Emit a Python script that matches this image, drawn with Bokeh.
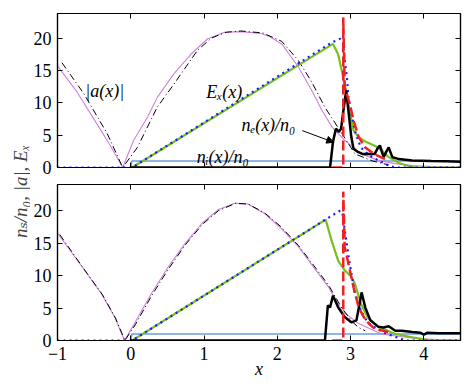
from math import pi
from bokeh.plotting import figure
from bokeh.models import Range1d, LinearAxis, Label, Arrow, NormalHead
from bokeh.layouts import row, column
from bokeh.embed import file_html
from bokeh.resources import INLINE

X_TICKS = [-1, 0, 1, 2, 3, 4]
Y_TICKS = [0, 5, 10, 15, 20]

# ---------------- top panel data ----------------
top_a_x = [-1, -0.73, -0.46, -0.28, -0.11, 0.04, 0.23, 0.36, 0.59, 0.82, 1.05, 1.28, 1.5, 1.78,
           1.9, 2.06, 2.29, 2.47, 2.61, 2.75, 2.92, 3.15, 3.38, 3.61, 3.84, 4.1, 4.5]
top_a_y = [15.7, 11.6, 6.7, 3.4, 0.0, 4.2, 7.8, 10.8, 14.5, 17.5, 19.9, 20.9, 21.0, 20.7,
           20.2, 19.1, 15.5, 11.9, 8.8, 6.2, 4.2, 2.1, 1.1, 0.6, 0.3, 0.15, 0.05]
top_th_x = [-0.94, -0.64, -0.32, -0.11, 0.09, 0.36, 0.59, 0.91, 1.1, 1.3, 1.5, 1.8, 2.06,
            2.29, 2.47, 2.65, 2.85, 3.06, 3.3, 3.52]
top_th_y = [16.2, 11.4, 5.2, 0.0, 3.1, 9.3, 12.9, 18.1, 20.0, 20.9, 21.1, 20.8, 19.5,
            16.5, 13.2, 9.3, 5.8, 2.1, 1.0, 0.4]
top_E_x = [0, 0.02, 2.76, 2.83, 2.9, 2.97, 3.04, 3.11, 3.2, 3.38, 3.52, 3.66, 3.8, 3.9, 4.5]
top_E_y = [0, 0, 19.1, 17.5, 13.9, 9.8, 5.7, 4.7, 4.0, 3.1, 1.6, 0.7, 0.2, 0, 0]
top_Eth_x = [-1, 0.02, 2.74, 2.86, 2.9, 2.92, 2.95, 2.97, 3.02, 3.07, 3.14, 3.25, 3.38, 3.52, 3.6, 4.5]
top_Eth_y = [0, 0, 19.3, 19.9, 19.2, 16.5, 13.9, 10.8, 7.8, 5.2, 3.1, 1.9, 1.1, 0.3, 0, 0]
top_ne_x = [0, 2.72, 2.76, 2.80, 2.84, 2.87, 2.91, 2.94, 2.97, 3.01, 3.04, 3.1, 3.16, 3.25,
            3.33, 3.37, 3.40, 3.45, 3.49, 3.52, 3.57, 3.66, 3.84, 4.1, 4.3, 4.5]
top_ne_y = [0, 0, 4.0, 6.0, 5.5, 6.0, 9.5, 11.9, 8.8, 4.7, 2.9, 2.4, 2.1, 2.1,
            2.1, 3.0, 3.4, 1.6, 2.5, 3.1, 1.6, 1.3, 1.1, 1.0, 0.95, 0.9]
top_neth_x = [2.75, 2.9, 2.9, 2.92, 2.99, 3.04, 3.11, 3.2, 3.32, 3.45, 3.52]
top_neth_y = [0, 0, 23.2, 12.4, 9.8, 7.3, 4.7, 3.1, 2.1, 1.4, 1.1]
ni_x = [0.0, 0.015, 4.5]
ni_y = [0.0, 1.0, 1.0]

# ---------------- bottom panel data ----------------
bot_a_x = [-1, -0.63, -0.4, -0.22, -0.085, 0.05, 0.28, 0.51, 0.74, 0.97, 1.19, 1.42, 1.6,
           1.83, 2.05, 2.29, 2.5, 2.70, 2.88, 3.11, 3.42, 3.88, 4.2, 4.5]
bot_a_y = [16.5, 10.8, 7.2, 3.6, 0.0, 2.6, 7.2, 11.3, 14.9, 18.0, 20.1, 21.1, 21.0,
           19.5, 17.3, 14.4, 11.2, 8.2, 4.6, 2.6, 1.0, 0.3, 0.15, 0.05]
bot_th_x = [-0.97, -0.62, -0.39, -0.21, -0.08, 0.06, 0.29, 0.52, 0.75, 0.98, 1.2, 1.43, 1.6,
            1.83, 2.05, 2.29, 2.5, 2.70, 2.88, 3.03, 3.11, 3.2]
bot_th_y = [16.3, 10.7, 7.1, 3.5, 0.0, 2.4, 7.0, 11.1, 14.8, 17.9, 20.0, 21.1, 21.0,
            19.6, 17.5, 14.6, 11.5, 8.5, 5.0, 2.8, 2.0, 1.5]
bot_E_x = [0, 0.02, 2.66, 2.74, 2.83, 2.92, 3.01, 3.06, 3.14, 3.23, 3.38, 3.61, 3.84, 4.1, 4.5]
bot_E_y = [0, 0, 18.6, 15.4, 12.3, 10.8, 9.8, 8.7, 5.7, 3.6, 2.1, 1.0, 0.5, 0, 0]
bot_Eth_x = [-1, 0.02, 2.70, 2.86, 2.89, 2.92, 2.96, 3.01, 3.06, 3.14, 3.23, 3.36, 3.5, 3.63, 3.75, 4.5]
bot_Eth_y = [0, 0, 18.9, 20.0, 19.5, 17.0, 13.9, 10.3, 7.2, 4.6, 2.8, 1.8, 1.0, 0.5, 0, 0]
bot_ne_x = [0, 2.65, 2.69, 2.72, 2.76, 2.83, 2.92, 3.01, 3.08, 3.12, 3.15, 3.2, 3.27, 3.38,
            3.45, 3.52, 3.61, 3.7, 3.84, 3.95, 4.0, 4.05, 4.2, 4.5]
bot_ne_y = [0, 0, 5.4, 5.1, 6.9, 5.1, 3.6, 2.8, 3.1, 5.5, 7.4, 5.1, 3.1, 2.1,
            2.0, 2.2, 1.5, 1.5, 1.3, 1.2, 0.9, 1.2, 1.1, 1.1]
bot_neth_x = [2.75, 2.9, 2.9, 2.92, 2.99, 3.04, 3.11, 3.18, 3.25, 3.33, 3.52]
bot_neth_y = [0, 0, 22.9, 14.4, 10.8, 8.2, 5.1, 3.6, 2.6, 1.8, 1.3]

VIOLET = "#cf7fe0"
GREEN = "#76c11b"
BLUE = "#1a1aff"
RED = "#ee2222"
LIGHTBLUE = "#6a9fe0"
SERIF = "Liberation Serif, DejaVu Serif, serif"


def style_axis(ax, ticks, labels=True):
    ax.ticker = ticks
    ax.major_tick_in = 5
    ax.major_tick_out = 0
    ax.minor_tick_in = 0
    ax.minor_tick_out = 0
    ax.axis_line_width = 1.2
    ax.major_tick_line_width = 1
    if labels:
        ax.major_label_text_font = SERIF
        ax.major_label_text_font_size = "18px"
        ax.major_label_text_color = "black"
        ax.major_label_standoff = 6
    else:
        ax.major_label_text_font_size = "0px"
        ax.major_label_text_color = None
        ax.major_label_standoff = 0


def make_fig(height, ymax, top, bottom, xlabels):
    p = figure(width=441, height=height, x_range=Range1d(-1, 4.5), y_range=Range1d(0, ymax),
               output_backend="svg", toolbar_location=None,
               min_border_left=26, min_border_right=11, min_border_top=top, min_border_bottom=bottom)
    p.xgrid.visible = False
    p.ygrid.visible = False
    p.outline_line_color = "black"
    p.outline_line_width = 1.2
    style_axis(p.below[0], X_TICKS, xlabels)
    style_axis(p.left[0], Y_TICKS, True)
    ra = LinearAxis()
    style_axis(ra, Y_TICKS, False)
    p.add_layout(ra, "right")
    ta = LinearAxis()
    style_axis(ta, X_TICKS, False)
    p.add_layout(ta, "above")
    return p


def draw(p, ax, ay, tx, ty, ex, ey, etx, ety, nx, ny, ntx, nty):
    p.line(ni_x, ni_y, line_color=LIGHTBLUE, line_width=1.5)
    p.line(ax, ay, line_color=VIOLET, line_width=1.1)
    p.line(tx, ty, line_color="black", line_width=1, line_dash="7 3 1 3")
    p.line(ex, ey, line_color=GREEN, line_width=2.2)
    p.line(etx, ety, line_color=BLUE, line_width=2.2, line_dash="2 4")
    p.line(nx, ny, line_color="black", line_width=2.5)
    p.line(ntx, nty, line_color=RED, line_width=2.5, line_dash="10 4")


top = make_fig(180, 23.8, 13, 13, False)
draw(top, top_a_x, top_a_y, top_th_x, top_th_y, top_E_x, top_E_y, top_Eth_x, top_Eth_y,
     top_ne_x, top_ne_y, top_neth_x, top_neth_y)

bot = make_fig(207, 24.0, 4, 47, True)
draw(bot, bot_a_x, bot_a_y, bot_th_x, bot_th_y, bot_E_x, bot_E_y, bot_Eth_x, bot_Eth_y,
     bot_ne_x, bot_ne_y, bot_neth_x, bot_neth_y)
xax = bot.below[0]
xax.axis_label = "x"
xax.axis_label_text_font = SERIF
xax.axis_label_text_font_style = "italic"
xax.axis_label_text_font_size = "18px"
xax.axis_label_text_color = "black"
xax.axis_label_standoff = -4


def lab(p, x, y, text, **kw):
    p.add_layout(Label(x=x, y=y, text=text, text_font=SERIF, text_font_style="italic",
                       text_font_size="18px", text_color="black", text_baseline="alphabetic",
                       text_align="left", **kw))


lab(top, -0.62, 11.9, "|a(x)|")
lab(top, 1.03, 11.7, "Eₓ(x)")
lab(top, 1.51, 6.6, "nₑ(x)/n₀")
lab(top, 0.9, 1.6, "nᵢ(x)/n₀")
top.add_layout(Arrow(end=NormalHead(size=7, fill_color="black", line_color="black"),
                     x_start=2.34, y_start=5.7, x_end=2.77, y_end=3.9,
                     line_color="black", line_width=1))

side = figure(width=30, height=387, x_range=Range1d(0, 1), y_range=Range1d(0, 1),
              output_backend="svg", toolbar_location=None, x_axis_type=None, y_axis_type=None,
              min_border=0)
side.outline_line_color = None
side.xgrid.visible = False
side.ygrid.visible = False
side.add_layout(Label(x=20, y=196, x_units="screen", y_units="screen",
                      text="nₛ/n₀, |a|, Eₓ", angle=pi / 2, text_align="center",
                      text_baseline="alphabetic", text_font=SERIF, text_font_style="italic",
                      text_font_size="19px"))

layout = row(side, column(top, bot))
open("out.html", "w").write(file_html(layout, INLINE))
